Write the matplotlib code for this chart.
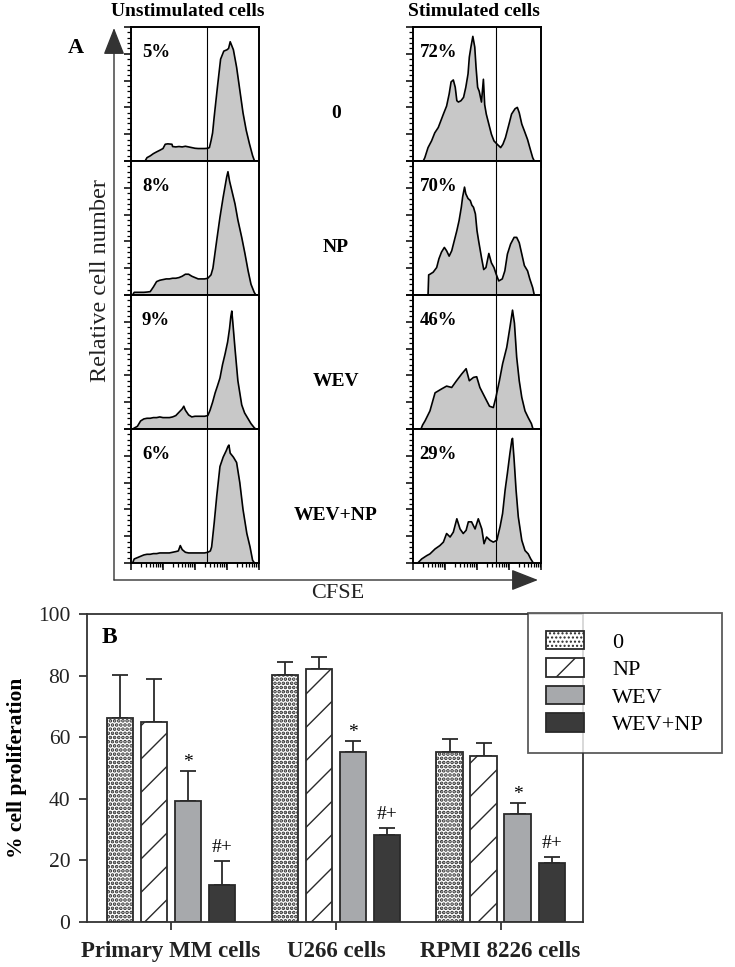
import matplotlib
matplotlib.use('Agg')
import matplotlib.pyplot as plt
from matplotlib.patches import Patch
import numpy as np

plt.rcParams['font.family'] = ['Liberation Serif', 'DejaVu Serif']
plt.rcParams['hatch.linewidth'] = 1.0

W, H = 735, 967


def fx(px):
    return px / W


def fy(py):
    return 1 - py / H


# ---------------- panel A: CFSE histograms (x = log10 CFSE, y = relative count) ----
treatments = ['0', 'NP', 'WEV', 'WEV+NP']
unstim_pct = ['5%', '8%', '9%', '6%']
stim_pct = ['72%', '70%', '46%', '29%']
unstim_gate = 2.38
stim_gate = 2.6

# unstimulated cells
u0_x = [0.44, 0.5, 0.6, 0.7, 0.8, 0.9, 1.0, 1.07, 1.15, 1.28, 1.3, 1.4, 1.5, 1.6, 1.7, 1.8, 1.9, 2.0,
        2.1, 2.2, 2.3, 2.4, 2.45, 2.5, 2.55, 2.6, 2.7, 2.8, 2.9, 3.0, 3.05, 3.1, 3.15, 3.2, 3.3, 3.4,
        3.5, 3.6, 3.7, 3.8, 3.86]
u0_y = [0, 2.5, 3.8, 5.5, 6.8, 8, 9.3, 12.5, 12.8, 12.5, 10.8, 10.5, 10.8, 10.5, 11, 10.5, 10, 9.5,
        9.3, 9.3, 9.3, 9.5, 10, 15, 21, 33, 55, 76, 82, 83, 84, 89, 86, 83, 70, 53,
        36, 23, 13, 4, 0]

unp_x = [0.05, 0.1, 0.2, 0.3, 0.4, 0.5, 0.6, 0.7, 0.8, 0.9, 1.0, 1.1, 1.2, 1.3, 1.4, 1.5, 1.6, 1.7,
         1.8, 1.9, 2.0, 2.1, 2.2, 2.3, 2.4, 2.5, 2.56, 2.68, 2.78, 2.88, 2.99, 3.03, 3.08, 3.15, 3.25,
         3.34, 3.46, 3.56, 3.66, 3.75, 3.85, 3.9]
unp_y = [0, 2, 2, 2, 2, 2.2, 2.5, 6, 10, 11, 11.5, 12, 12, 12.5, 12.5, 13, 14, 15.5,
         15.5, 14, 13, 12, 12, 12, 12.5, 15, 20, 41, 58, 73, 88, 92, 85, 78, 68,
         56, 43, 31, 18, 8, 2, 0]

uwev_x = [0.05, 0.2, 0.3, 0.4, 0.5, 0.6, 0.7, 0.8, 0.9, 1.0, 1.1, 1.2, 1.3, 1.4, 1.5, 1.6, 1.65,
          1.7, 1.8, 1.9, 2.0, 2.1, 2.2, 2.3, 2.4, 2.47, 2.55, 2.63, 2.7, 2.78, 2.86, 2.94, 3.02,
          3.08, 3.12, 3.15, 3.18, 3.25, 3.34, 3.46, 3.55, 3.65, 3.75, 3.85, 3.9]
uwev_y = [0, 2, 6, 7.5, 8, 8, 8.5, 8.5, 9, 8.5, 8.5, 8.5, 9, 10, 12.5, 15, 17,
          14, 10.5, 9, 9.5, 9.5, 9.5, 9.5, 10, 14, 20, 27, 32, 38, 48, 56, 65,
          75, 84, 88, 80, 60, 36, 18, 12, 8, 4, 1, 0]

uwevnp_x = [0.05, 0.1, 0.2, 0.3, 0.4, 0.5, 0.6, 0.7, 0.8, 0.9, 1.0, 1.1, 1.2, 1.3, 1.4, 1.48, 1.54,
            1.6, 1.7, 1.8, 1.9, 2.0, 2.1, 2.2, 2.3, 2.4, 2.48, 2.52, 2.6, 2.68, 2.78, 2.88, 2.98,
            3.03, 3.06, 3.1, 3.2, 3.3, 3.4, 3.5, 3.62, 3.72, 3.8, 3.86]
uwevnp_y = [0, 3, 4, 5, 6, 6.5, 6.5, 7, 7, 7.5, 7.5, 7.5, 7.5, 8, 8.5, 9, 13,
            10, 8, 7.5, 7.5, 7.5, 7.5, 7.5, 7.5, 8, 9, 12, 30, 50, 72, 79, 84,
            87, 88, 82, 79, 75, 60, 40, 22, 12, 2, 0]

# stimulated cells
s0_x = [0.32, 0.37, 0.47, 0.58, 0.68, 0.79, 0.87, 0.95, 1.05, 1.13, 1.19, 1.26, 1.32, 1.37, 1.42,
        1.5, 1.58, 1.65, 1.72, 1.76, 1.81, 1.87, 1.93, 1.97, 2.02, 2.07, 2.14, 2.2, 2.24, 2.29,
        2.37, 2.45, 2.53, 2.63, 2.74, 2.81, 2.89, 3.0, 3.08, 3.19, 3.26, 3.32, 3.4, 3.48, 3.58,
        3.65, 3.74, 3.79]
s0_y = [0, 2.5, 10, 15, 21, 25, 30, 35, 41, 50, 59, 60.5, 55, 45, 44,
        45, 47.5, 55, 65, 77.5, 85, 93, 85, 70, 55, 52, 44, 61, 42, 35,
        27.5, 20, 15, 12.5, 10, 12.5, 17.5, 27.5, 35, 39, 40, 36, 27.5, 22.5, 16,
        10, 2.5, 0]

snp_x = [0.47, 0.49, 0.53, 0.63, 0.74, 0.81, 0.89, 0.98, 1.05, 1.13, 1.21, 1.29, 1.37, 1.44, 1.51,
         1.55, 1.61, 1.65, 1.72, 1.79, 1.84, 1.89, 1.95, 2.0, 2.05, 2.14, 2.21, 2.28, 2.37, 2.45,
         2.53, 2.6, 2.68, 2.79, 2.87, 2.95, 3.05, 3.16, 3.24, 3.32, 3.4, 3.48, 3.58, 3.65, 3.74,
         3.79]
snp_y = [0, 15, 15.5, 17, 20.5, 27, 32, 35.5, 33, 29, 33, 40.5, 48, 55.5, 65.5,
         73, 80.5, 75.5, 72, 70.5, 67, 65.5, 60.5, 48, 40.5, 28, 19, 20.5, 31, 24,
         20.5, 15.5, 10.5, 12, 18, 30.5, 38, 43, 43, 39, 30.5, 22, 18, 12, 5.5,
         0]

swev_x = [0.25, 0.3, 0.375, 0.53, 0.63, 0.69, 0.9, 1.05, 1.21, 1.36, 1.52, 1.66, 1.76, 1.89, 1.99,
          2.09, 2.25, 2.39, 2.51, 2.59, 2.7, 2.8, 2.93, 3.03, 3.11, 3.17, 3.24, 3.32, 3.4, 3.5,
          3.6, 3.7, 3.75]
swev_y = [0, 3, 6, 13.5, 22, 27, 30, 32, 31, 36, 41, 45, 36, 38.5, 39,
          31, 23.5, 17, 16, 23.5, 36, 48.6, 61, 76, 88.7, 79, 53.6, 36, 23.5, 13.5,
          8.5, 4, 0]

swevnp_x = [0.17, 0.27, 0.43, 0.53, 0.69, 0.84, 0.95, 1.05, 1.16, 1.26, 1.37, 1.47, 1.57, 1.66,
            1.73, 1.83, 1.94, 2.04, 2.15, 2.22, 2.3, 2.41, 2.51, 2.62, 2.67, 2.72, 2.8, 2.88,
            2.95, 3.03, 3.09, 3.11, 3.16, 3.22, 3.29, 3.4, 3.5, 3.6, 3.68, 3.76]
swevnp_y = [0.5, 3, 5.5, 6.8, 10.5, 13, 15.6, 22, 19.4, 23, 33, 25.4, 22, 24.4,
            30.7, 30.7, 25.4, 33, 25.4, 14.4, 19.4, 16.9, 15.6, 16.9, 22, 27, 37, 54.7,
            67, 82, 92, 93, 77, 54.7, 34.5, 16.9, 9.3, 6.8, 3, 0]

unstim_hists = [(u0_x, u0_y), (unp_x, unp_y), (uwev_x, uwev_y), (uwevnp_x, uwevnp_y)]
stim_hists = [(s0_x, s0_y), (snp_x, snp_y), (swev_x, swev_y), (swevnp_x, swevnp_y)]

# ---------------- panel B: % cell proliferation ----------------
cell_lines = ['Primary MM cells', 'U266 cells', 'RPMI 8226 cells']
mean_0 = [66.2, 80.2, 55.2]
mean_np = [64.9, 82.1, 53.9]
mean_wev = [39.3, 55.2, 35.1]
mean_wevnp = [12.0, 28.2, 19.2]
err_0 = [14.0, 4.2, 4.2]
err_np = [14.0, 3.9, 4.2]
err_wev = [9.7, 3.6, 3.5]
err_wevnp = [7.8, 2.3, 1.9]
sig_wev = ['*', '*', '*']
sig_wevnp = ['#+', '#+', '#+']

fig = plt.figure(figsize=(7.35, 9.67), dpi=100)

# overlay for the big axis arrows of panel A
ov = fig.add_axes([0, 0, 1, 1])
ov.set_xlim(0, W)
ov.set_ylim(H, 0)
ov.axis('off')
arrow_kw = dict(arrowstyle='-|>,head_length=1.4,head_width=0.55', color='#333333', lw=1.0,
                mutation_scale=12, shrinkA=0, shrinkB=0)
ov.annotate('', xy=(114, 28), xytext=(114, 580), arrowprops=arrow_kw)
ov.annotate('', xy=(538, 580), xytext=(114, 580), arrowprops=arrow_kw)

row_tops = [27, 161, 295, 429]
row_h = 134
col_left = [131, 413]
col_w = 128
minor_x = [d + np.log10(k) for d in range(4) for k in range(2, 10)]

for j, (hists, pcts, gate) in enumerate([(unstim_hists, unstim_pct, unstim_gate),
                                           (stim_hists, stim_pct, stim_gate)]):
    for i, (hx, hy) in enumerate(hists):
        ax = fig.add_axes([fx(col_left[j]), fy(row_tops[i] + row_h), col_w / W, row_h / H])
        ax.fill_between(hx, hy, 0, color='#c8c8c8', lw=0)
        ax.plot(hx, hy, color='black', lw=1.2)
        ax.axvline(gate, color='black', lw=0.8)
        ax.set_xlim(0, 4)
        ax.set_ylim(0, 100)
        ax.set_xticks([0, 1, 2, 3, 4])
        ax.set_xticks(minor_x, minor=True)
        ax.set_yticks(range(0, 101, 20))
        ax.set_yticks(range(0, 101, 4), minor=True)
        ax.tick_params(which='major', length=5, width=1.1, direction='out',
                       labelbottom=False, labelleft=False)
        ax.tick_params(which='minor', length=3, width=0.9, direction='out')
        for s in ax.spines.values():
            s.set_linewidth(1.4)
        ax.text(0.085 if j == 0 else 0.05, 0.81, pcts[i], transform=ax.transAxes,
                fontsize=13.5, fontweight='bold', va='center', ha='left')

for i, t in enumerate(treatments):
    fig.text(fx(336), fy(row_tops[i] + 86), t, fontsize=14, fontweight='bold',
             ha='center', va='center')

fig.text(fx(188), fy(12), 'Unstimulated cells', fontsize=14, fontweight='bold',
         ha='center', va='center')
fig.text(fx(474), fy(12), 'Stimulated cells', fontsize=14, fontweight='bold',
         ha='center', va='center')
fig.text(fx(76), fy(48), 'A', fontsize=16, fontweight='bold', ha='center', va='center')
fig.text(fx(101), fy(281), 'Relative cell number', fontsize=17.5, rotation=90,
         ha='center', va='center', color='#222222')
fig.text(fx(338), fy(593), 'CFSE', fontsize=16, ha='center', va='center', color='#222222')

# ---------------- panel B ----------------
axb = fig.add_axes([fx(87), fy(922), 496 / W, 308 / H])
centers = np.arange(1, len(cell_lines) + 1)
offsets = [-0.31, -0.103, 0.103, 0.31]
width = 0.16
edge = '#2a2a2a'
series = [
    ('0', mean_0, err_0, 'white', '....', 1.8),
    ('NP', mean_np, err_np, 'white', '/', 1.0),
    ('WEV', mean_wev, err_wev, '#a7a9ac', None, 1.0),
    ('WEV+NP', mean_wevnp, err_wevnp, '#3a3a3a', None, 1.0),
]
handles = []
for k, (lab, vals, errs, fc, hatch, hlw) in enumerate(series):
    pos = centers + offsets[k]
    with plt.rc_context({'hatch.linewidth': hlw}):
        axb.bar(pos, vals, width, color=fc, edgecolor=edge, linewidth=1.3, hatch=hatch, zorder=2)
        handles.append(Patch(facecolor=fc, edgecolor=edge, linewidth=1.3, hatch=hatch, label=lab))
    axb.errorbar(pos, vals, yerr=[np.zeros(len(errs)), errs], fmt='none', ecolor=edge,
                 elinewidth=1.3, capsize=6, capthick=1.3, zorder=1)

for c, v, e, s in zip(centers, mean_wev, err_wev, sig_wev):
    axb.text(c + offsets[2], v + e + 1.3, s, ha='center', va='baseline', fontsize=14)
for c, v, e, s in zip(centers, mean_wevnp, err_wevnp, sig_wevnp):
    axb.text(c + offsets[3], v + e + 2.9, s, ha='center', va='baseline', fontsize=14)

axb.set_xlim(0.49, 3.5)
axb.set_ylim(0, 100)
axb.set_yticks(range(0, 101, 20))
axb.set_xticks(centers)
axb.set_xticklabels(cell_lines, fontsize=16.5, fontweight='bold')
axb.tick_params(axis='y', labelsize=15.5, length=6, width=1.2, pad=6, colors='#222222')
axb.tick_params(axis='x', length=6, width=1.2, pad=8, colors='#222222')
for s in axb.spines.values():
    s.set_linewidth(1.3)
    s.set_color('#333333')
axb.set_ylabel('% cell proliferation', fontsize=15.5, fontweight='bold', labelpad=8)
axb.text(0.03, 0.925, 'B', transform=axb.transAxes, fontsize=17, fontweight='bold',
         va='center', ha='left')

leg = axb.legend(handles=handles, loc='upper left', bbox_to_anchor=(fx(528), fy(613)),
                 bbox_transform=fig.transFigure, borderaxespad=0, fontsize=16,
                 frameon=True, fancybox=False, handlelength=1.7, handleheight=0.9,
                 handletextpad=1.3, labelspacing=0.25, borderpad=0.8)
leg.get_frame().set_edgecolor('#333333')
leg.get_frame().set_linewidth(1.3)
leg.set_zorder(5)

fig.savefig('out.png', dpi=100)
